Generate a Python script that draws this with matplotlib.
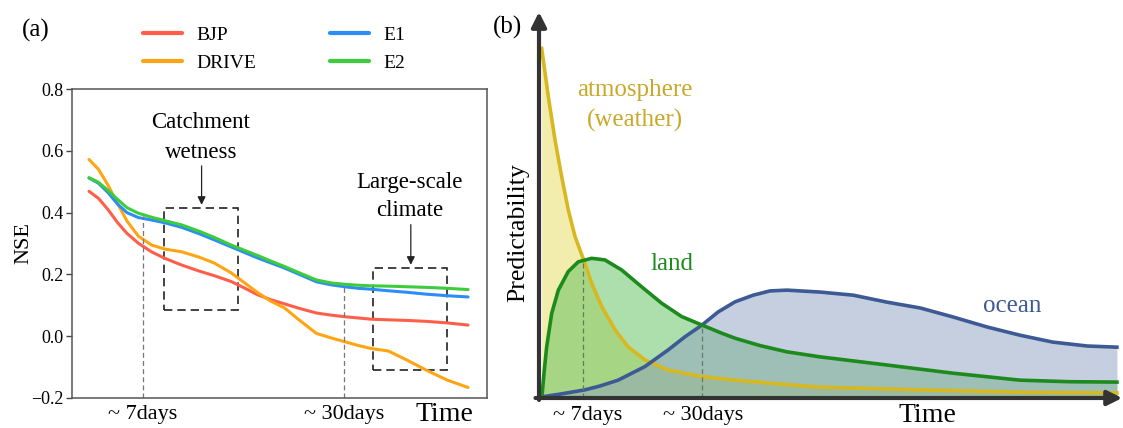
import matplotlib
matplotlib.use("Agg")
import matplotlib.pyplot as plt
from matplotlib.patches import Rectangle

plt.rcParams['font.family'] = ['Liberation Serif', 'DejaVu Serif']

# ---------------- Panel (a) data ----------------
lead = [0, 2.5, 5, 7.5, 10, 13, 16.5, 20, 24.5, 29, 33, 37.5, 41, 44.5, 48, 51.5, 55.5, 60,
        64, 67.5, 71, 74.5, 79, 84, 89, 94.5, 100]
bjp = [0.469, 0.446, 0.410, 0.368, 0.333, 0.301, 0.273, 0.252, 0.230, 0.211, 0.196, 0.177,
       0.156, 0.134, 0.118, 0.105, 0.090, 0.075, 0.068, 0.063, 0.059, 0.055, 0.053, 0.051,
       0.048, 0.043, 0.036]
drive = [0.572, 0.540, 0.489, 0.430, 0.373, 0.324, 0.295, 0.282, 0.273, 0.256, 0.237, 0.205,
         0.173, 0.141, 0.113, 0.092, 0.052, 0.009, -0.006, -0.018, -0.030, -0.040, -0.048,
         -0.078, -0.110, -0.142, -0.166]
e1 = [0.512, 0.495, 0.465, 0.428, 0.400, 0.384, 0.376, 0.367, 0.352, 0.332, 0.312, 0.289,
      0.271, 0.253, 0.237, 0.221, 0.200, 0.176, 0.166, 0.160, 0.155, 0.152, 0.147, 0.142,
      0.136, 0.131, 0.127]
e2 = [0.513, 0.498, 0.472, 0.443, 0.416, 0.398, 0.385, 0.374, 0.360, 0.340, 0.320, 0.295,
      0.278, 0.261, 0.243, 0.226, 0.205, 0.182, 0.172, 0.168, 0.165, 0.163, 0.162, 0.160,
      0.158, 0.155, 0.151]
series_names = ['BJP', 'DRIVE', 'E1', 'E2']
series_colors = ['#ff5e4a', '#ffa514', '#2c8ef5', '#3ccc3c']
yticks_a = [-0.2, 0.0, 0.2, 0.4, 0.6, 0.8]
marks_a = [14.2, 67.4]            # ~7days, ~30days
marks_a_top = [0.39, 0.17]
mark_labels = ['~ 7days', '~ 30days']
box1 = (19.8, 39.3, 0.084, 0.416)  # x0, x1, y0, y1
box2 = (74.8, 94.5, -0.110, 0.222)

# ---------------- Panel (b) data ----------------
atm_x = [0.46, 1.6, 2.75, 3.9, 5.03, 6.19, 7.9, 9.05, 10.8, 13.1, 15.3, 18.2, 22.2, 28.0,
         33.7, 41.4, 48.3, 65.5, 82.6, 99.3]
atm_y = [90.1, 77.7, 66.5, 57.0, 48.5, 41.6, 34.7, 29.6, 23.5, 17.5, 13.2, 9.8, 7.2, 5.5,
         4.6, 3.6, 2.8, 2.1, 1.5, 1.3]
land_x = [0.5, 0.9, 1.32, 2.18, 3.32, 5.03, 6.75, 9.05, 11.3, 14.2, 17.6, 21.1, 24.5, 28.0,
          31.4, 33.7, 38.0, 42.6, 48.3, 59.8, 71.1, 82.6, 91.0, 99.3]
land_y = [0.3, 7.0, 13.2, 21.8, 27.8, 32.6, 35.1, 36.0, 35.6, 33.0, 28.7, 24.4, 21.0, 18.8,
          16.7, 15.4, 13.5, 11.9, 10.6, 8.5, 6.4, 4.6, 4.2, 4.1]
ocean_x = [0.5, 3.6, 7.9, 10.5, 13.6, 18.2, 22.2, 25.1, 28.0, 30.8, 33.7, 36.8, 39.7, 42.6,
           48.3, 54.0, 59.8, 65.5, 71.1, 77.0, 82.6, 88.3, 94.2, 99.3]
ocean_y = [0.3, 1.0, 2.1, 3.1, 4.6, 8.1, 12.4, 15.8, 18.8, 22.2, 24.8, 26.5, 27.6, 27.8,
           27.3, 26.5, 24.7, 23.2, 20.9, 18.3, 16.2, 14.4, 13.4, 13.1]
marks_b = [7.6, 28.0]
marks_b_top = [35.2, 18.8]

W, H = 1123, 428
fig = plt.figure(figsize=(W / 100, H / 100), dpi=100)

# ================= Panel (a) =================
ax = fig.add_axes([72 / W, 1 - 398 / H, (487 - 72) / W, (398 - 89) / H])
for name, vals, col in zip(series_names, [bjp, drive, e1, e2], series_colors):
    ax.plot(lead, vals, color=col, lw=2.2, label=name, solid_capstyle='round',
            solid_joinstyle='round')
ax.set_xlim(-4.49, 105.0)
ax.set_ylim(-0.2, 0.8)
ax.set_yticks(yticks_a)
ax.set_yticklabels([f'{v:.1f}'.replace('-', '\u2212') for v in yticks_a])
ax.set_xticks([])
ax.tick_params(axis='y', labelsize=13, length=4, width=1, colors='#444444', labelcolor='black', pad=2)
for sp in ax.spines.values():
    sp.set_color('#555555')
    sp.set_linewidth(1.1)
ax.set_ylabel('NSE', fontsize=16)
ax.yaxis.set_label_coords(-0.094, 0.5)

for xm, yt, lab in zip(marks_a, marks_a_top, mark_labels):
    ax.plot([xm, xm], [-0.2, yt], color='#777777', lw=0.9, ls=(0, (4, 2.5)))
    ax.text(xm, -0.255, lab, ha='center', va='center', fontsize=16)
ax.text(93.7, -0.255, 'Time', ha='center', va='center', fontsize=20, clip_on=False)

for (x0, x1, y0, y1) in [box1, box2]:
    ax.add_patch(Rectangle((x0, y0), x1 - x0, y1 - y0, fill=False, ec='#222222',
                           lw=1.2, ls=(0, (5, 3))))
ax.annotate('', xy=(29.7, box1[3]), xytext=(29.7, 0.56),
            arrowprops=dict(arrowstyle='-|>', color='#222222', lw=0.9, mutation_scale=12))
ax.annotate('', xy=(84.9, box2[3]), xytext=(84.9, 0.37),
            arrowprops=dict(arrowstyle='-|>', color='#222222', lw=0.9, mutation_scale=12))
ax.text(29.5, 0.690, 'Catchment', ha='center', va='center', fontsize=16.5)
ax.text(29.5, 0.596, 'wetness', ha='center', va='center', fontsize=16.5)
ax.text(84.6, 0.496, 'Large-scale', ha='center', va='center', fontsize=16.5)
ax.text(84.6, 0.408, 'climate', ha='center', va='center', fontsize=16.5)

leg = ax.legend(ncol=2, frameon=False, fontsize=14, handlelength=2.0, handletextpad=0.75,
                columnspacing=3.8, labelspacing=0.56, loc='center',
                bbox_to_anchor=(274 / W, 1 - 49 / H), bbox_transform=fig.transFigure)
for lh in leg.get_lines():
    lh.set_linewidth(3)

fig.text(36 / W, 1 - 30 / H, '(a)', fontsize=18, ha='center', va='center')
fig.text(508 / W, 1 - 27 / H, '(b)', fontsize=18, ha='center', va='center')

# ================= Panel (b) =================
bx = fig.add_axes([539 / W, 1 - 398 / H, (1121 - 539) / W, (398 - 10) / H])
bx.set_xlim(0, 100)
bx.set_ylim(0, 100)
bx.axis('off')

atm_line = '#d8b820'
land_line = '#1d8a1d'
ocean_line = '#3d5a94'
bx.fill_between(atm_x, 0, atm_y, color='#e6dc5a', alpha=0.5, lw=0, zorder=1)
bx.fill_between(land_x, 0, land_y, color='#5cc05c', alpha=0.5, lw=0, zorder=2)
bx.fill_between(ocean_x, 0, ocean_y, color='#8fa0c0', alpha=0.5, lw=0, zorder=3)
bx.plot(atm_x, atm_y, color=atm_line, lw=2.6, zorder=4, solid_joinstyle='round')
bx.plot(ocean_x, ocean_y, color=ocean_line, lw=2.6, zorder=5, solid_joinstyle='round')
bx.plot(land_x, land_y, color=land_line, lw=2.6, zorder=6, solid_joinstyle='round')

for xm, yt in zip(marks_b, marks_b_top):
    bx.plot([xm, xm], [0, yt], color='#667766', lw=0.9, ls=(0, (4, 2.5)), zorder=7)

# axis arrows
bx.annotate('', xy=(0, 99.5), xytext=(0, -0.5), xycoords='data',
            arrowprops=dict(arrowstyle='-|>', color='#333333', lw=3, mutation_scale=22,
                            shrinkA=0, shrinkB=0), zorder=10, annotation_clip=False)
bx.annotate('', xy=(100.2, 0), xytext=(-0.6, 0), xycoords='data',
            arrowprops=dict(arrowstyle='-|>', color='#333333', lw=3, mutation_scale=22,
                            shrinkA=0, shrinkB=0), zorder=10, annotation_clip=False)

bx.text(8.3, -4.4, '~ 7days', ha='center', va='center', fontsize=16, clip_on=False)
bx.text(28.2, -4.4, '~ 30days', ha='center', va='center', fontsize=16, clip_on=False)
bx.text(66.7, -4.4, 'Time', ha='center', va='center', fontsize=20, clip_on=False)
bx.text(16.5, 79.4, 'atmosphere', ha='center', va='center', fontsize=18, color='#c9a82a')
bx.text(16.5, 71.6, '(weather)', ha='center', va='center', fontsize=18, color='#c9a82a')
bx.text(22.8, 34.5, 'land', ha='center', va='center', fontsize=18, color='#1d8a1d')
bx.text(81.3, 23.7, 'ocean', ha='center', va='center', fontsize=18, color='#3d5a94')
fig.text(518 / W, 1 - 233 / H, 'Predictability', rotation=90, ha='center', va='center', fontsize=18.5)

fig.savefig('out.png', dpi=100)
